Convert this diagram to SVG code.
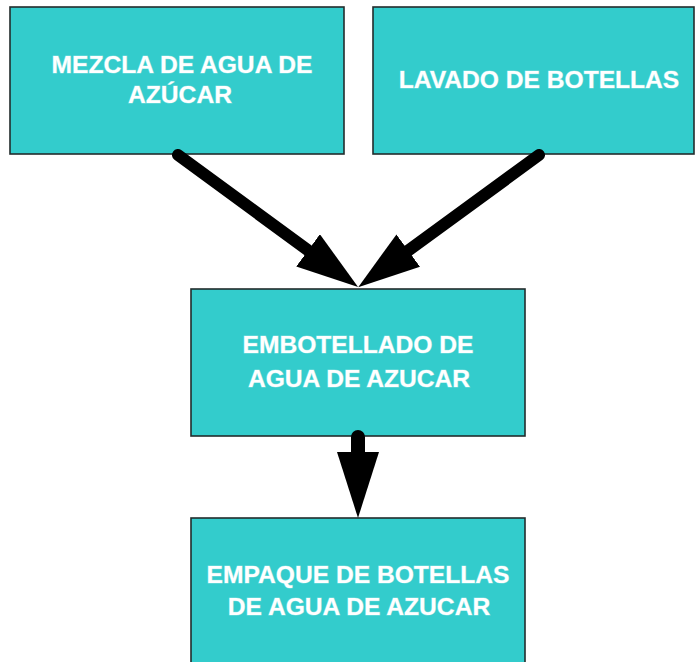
<svg xmlns="http://www.w3.org/2000/svg" width="696" height="662" viewBox="0 0 696 662">
<style>
.box{fill:#33CCCC;stroke:#222c2c;stroke-width:1.6}
.lbl{font-family:"Liberation Sans",Arial,sans-serif;font-weight:bold;font-size:24.6px;fill:#ffffff;text-anchor:middle;stroke:#ffffff;stroke-opacity:0.35;stroke-width:1;paint-order:stroke}
.conn{fill:none;stroke:#000000;stroke-linecap:round}
</style>
<defs>
<marker id="headA" markerUnits="userSpaceOnUse" viewBox="0 0 62 40" markerWidth="62" markerHeight="40" refX="6" refY="20" orient="auto">
<path d="M0,0 L62,20 L0,40 Z" fill="#000000"/>
</marker>
<marker id="headB" markerUnits="userSpaceOnUse" viewBox="0 0 66 42" markerWidth="66" markerHeight="42" refX="6" refY="21" orient="auto">
<path d="M0,0 L66,21 L0,42 Z" fill="#000000"/>
</marker>
</defs>
<rect width="696" height="662" fill="#ffffff"/>
<g id="node-mezcla">
<rect class="box" x="10" y="7" width="334" height="147"/>
<text class="lbl" x="182" y="73">MEZCLA DE AGUA DE</text>
<text class="lbl" x="180" y="103">AZÚCAR</text>
</g>
<g id="node-lavado">
<rect class="box" x="373" y="7" width="321" height="147"/>
<text class="lbl" x="539" y="88">LAVADO DE BOTELLAS</text>
</g>
<g id="node-embotellado">
<rect class="box" x="191" y="289" width="334" height="147"/>
<text class="lbl" x="358" y="353">EMBOTELLADO DE</text>
<text class="lbl" x="359" y="387">AGUA DE AZUCAR</text>
</g>
<g id="node-empaque">
<rect class="box" x="191" y="518" width="334" height="150"/>
<text class="lbl" x="358" y="583">EMPAQUE DE BOTELLAS</text>
<text class="lbl" x="359" y="615">DE AGUA DE AZUCAR</text>
</g>
<g id="connectors">
<line class="conn" x1="178" y1="155" x2="312.9" y2="253.9" stroke-width="12" marker-end="url(#headA)"/>
<line class="conn" x1="539" y1="155" x2="403.4" y2="254.1" stroke-width="12" marker-end="url(#headA)"/>
<line class="conn" x1="358" y1="437" x2="358" y2="458" stroke-width="14" marker-end="url(#headB)"/>
</g>
</svg>
